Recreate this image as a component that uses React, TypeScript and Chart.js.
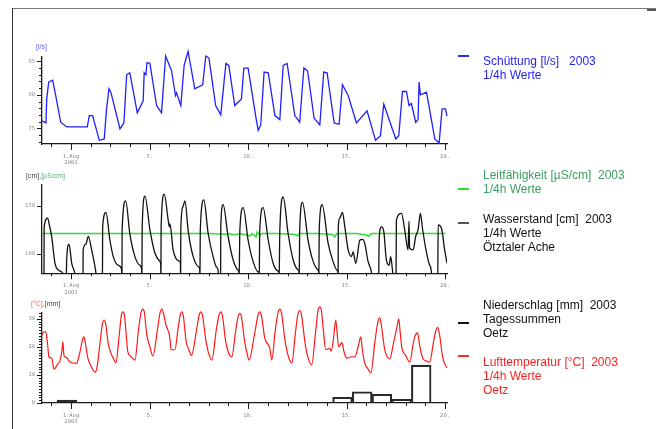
import { useEffect, useRef } from 'react';
import { Chart, registerables } from 'chart.js';

Chart.register(...registerables);

// Time axis in days of August 2003 (1 = 1 Aug 00:00, 0 = 31 Jul 00:00)
const X_MIN = -0.47;
const X_MAX = 20.1;
const dayTicks = Array.from({ length: 21 }, (_, i) => i);
const dayLabels: Record<number, string | string[]> = {
  1: ['1.Aug', '2003'],
  5: '5.',
  10: '10.',
  15: '15.',
  20: '20.',
};
const dayMajor = [1, 5, 10, 15, 20];

// Schüttung [l/s], 1/4h Werte
const discharge: [number, number][] = [
  [-0.46, 76.1], [-0.27, 75.8], [-0.23, 79.4], [-0.13, 81.9], [0.07, 82.2], [0.24, 79.7],
  [0.48, 75.9], [0.78, 75.2], [1.83, 75.2], [1.93, 76.9], [2.1, 76.9], [2.44, 73.2],
  [2.69, 73.4], [2.81, 77.9], [2.93, 80.9], [3.03, 80.4], [3.49, 74.9], [3.69, 75.8],
  [3.83, 83.0], [3.99, 83.3], [4.37, 77.3], [4.67, 79.1], [4.72, 83.3], [4.81, 83.0],
  [4.86, 84.8], [5.01, 84.7], [5.35, 78.4], [5.6, 77.3], [5.81, 85.8], [6.11, 83.6],
  [6.31, 79.9], [6.36, 80.3], [6.58, 78.4], [6.75, 84.4], [6.95, 86.5], [7.29, 80.9],
  [7.69, 81.5], [7.85, 85.8], [8.01, 85.5], [8.35, 78.4], [8.61, 77.0], [8.87, 84.7],
  [9.02, 84.4], [9.32, 78.4], [9.66, 79.4], [9.78, 84.0], [10.0, 84.0], [10.39, 76.7],
  [10.51, 74.7], [10.64, 75.5], [10.81, 83.4], [11.02, 83.3], [11.36, 76.9], [11.61, 76.3],
  [11.78, 84.4], [11.98, 84.7], [12.37, 76.9], [12.62, 75.9], [12.83, 84.0], [13.02, 83.6],
  [13.35, 76.5], [13.64, 75.5], [13.84, 83.4], [14.01, 83.3], [14.37, 75.8], [14.62, 75.6],
  [14.79, 81.5], [15.08, 79.9], [15.5, 75.8], [16.04, 77.6], [16.47, 73.2], [16.72, 73.9],
  [16.89, 78.6], [17.5, 73.4], [17.65, 73.9], [17.84, 80.5], [18.04, 80.5], [18.17, 78.4],
  [18.29, 78.7], [18.51, 75.9], [18.63, 76.3], [18.68, 81.9], [18.75, 80.0], [19.06, 80.4],
  [19.48, 73.4], [19.7, 72.8], [19.85, 77.9], [20.02, 77.9], [20.1, 76.8],
];

// Wasserstand [cm], Ötztaler Ache (drops below the axis between the daily melt peaks)
const waterLevel: [number, number][] = [
  [-0.47, 70], [-0.37, 70], [-0.36, 128], [-0.18, 137], [-0.1, 130], [0.02, 118], [0.19, 90],
  [0.36, 83], [0.61, 79], [0.7, 70],
  [0.76, 70], [0.78, 92], [0.9, 110], [1.04, 90], [1.2, 80], [1.3, 70],
  [1.61, 70], [1.62, 104], [1.76, 110], [1.88, 118], [2.05, 104], [2.27, 80], [2.32, 70],
  [2.6, 70], [2.61, 128], [2.78, 143], [2.98, 114], [3.15, 97], [3.4, 88], [3.57, 84], [3.59, 70],
  [3.6, 125], [3.78, 155], [3.99, 121], [4.25, 97], [4.5, 88], [4.59, 84], [4.6, 70],
  [4.62, 128], [4.76, 160], [5.01, 125], [5.26, 101], [5.52, 92], [5.56, 88], [5.57, 70],
  [5.58, 128], [5.74, 162], [5.94, 135], [6.0, 128], [6.03, 131], [6.19, 104], [6.53, 92], [6.56, 90], [6.57, 70],
  [6.58, 125], [6.69, 149], [6.79, 155], [6.96, 123], [7.21, 97], [7.5, 86], [7.54, 84], [7.55, 70],
  [7.57, 125], [7.75, 156], [7.97, 121], [8.22, 97], [8.4, 86], [8.48, 82], [8.49, 70],
  [8.6, 70], [8.61, 128], [8.73, 151], [8.98, 118], [9.24, 93.5], [9.49, 83], [9.53, 81], [9.54, 70],
  [9.58, 125], [9.75, 148], [10.0, 114], [10.25, 92], [10.51, 81], [10.55, 80], [10.56, 70],
  [10.59, 125], [10.76, 148], [11.02, 114], [11.27, 90], [11.52, 82], [11.56, 81], [11.57, 70],
  [11.61, 125], [11.78, 159], [12.03, 121], [12.28, 94], [12.54, 83], [12.58, 81], [12.59, 70],
  [12.62, 125], [12.76, 153.5], [13.05, 113], [13.3, 92], [13.55, 83], [13.58, 81], [13.59, 70],
  [13.61, 125], [13.76, 151], [14.06, 111], [14.31, 92], [14.51, 83], [14.56, 81], [14.57, 70],
  [14.58, 128], [14.65, 137], [14.79, 143], [14.91, 128], [15.08, 104], [15.25, 97], [15.33, 102],
  [15.47, 90], [15.67, 114], [15.81, 115], [15.92, 111], [16.09, 92], [16.26, 81], [16.33, 70],
  [16.63, 70], [16.65, 114], [16.77, 128], [16.89, 123], [17.02, 93.5], [17.16, 88], [17.24, 97], [17.33, 83], [17.4, 70],
  [17.51, 70], [17.53, 135], [17.79, 142], [17.95, 125], [18.12, 104], [18.17, 134], [18.2, 106],
  [18.38, 104], [18.51, 118], [18.63, 125], [18.75, 142], [18.85, 127], [19.06, 101], [19.22, 88],
  [19.31, 80], [19.32, 70],
  [19.63, 70], [19.65, 130], [19.82, 126.5], [19.98, 104], [20.1, 90],
];

// Leitfähigkeit [µS/cm], drawn on the shared left axis
const conductivity: [number, number][] = [
  [-0.47, 121], [2.0, 121], [4.0, 121], [6.0, 121], [8.0, 121], [8.9, 120.2], [9.0, 121],
  [9.3, 119.8], [9.6, 121], [10.1, 118.5], [10.2, 121], [10.4, 117.5], [10.45, 122.5], [10.6, 119],
  [10.7, 121], [11.5, 121], [12.4, 120], [12.5, 118.5], [12.6, 121], [13.5, 121], [14.3, 120],
  [14.4, 117.5], [14.5, 121], [15.5, 121], [16.0, 119.5], [16.1, 118], [16.2, 120], [16.3, 121],
  [17.5, 121], [19.0, 121], [20.02, 121],
];

// Lufttemperatur [°C], Oetz
const airTemp: [number, number][] = [
  [-0.47, 24.3], [-0.4, 25.2], [-0.32, 25.5], [-0.25, 24.6], [-0.18, 20.5], [-0.12, 16.4], [0.02, 16.0],
  [0.14, 12.1], [0.34, 14.0], [0.44, 15.0], [0.54, 18.5], [0.59, 21.8], [0.63, 18.0], [0.66, 16.6],
  [0.78, 16.2], [0.95, 14.6], [1.3, 14.1], [1.36, 15.5], [1.46, 18.2], [1.58, 22.4], [1.66, 23.6],
  [1.74, 21.0], [1.86, 16.0], [2.05, 12.8], [2.22, 11.0], [2.32, 12.5], [2.48, 21.5], [2.6, 28.4],
  [2.68, 29.6], [2.76, 28.4], [2.9, 21.0], [3.03, 17.8], [3.15, 16.0], [3.28, 14.3], [3.45, 24.0],
  [3.56, 31.2], [3.64, 32.5], [3.72, 31.2], [3.8, 25.0], [3.89, 18.2], [4.05, 16.6], [4.25, 15.3],
  [4.43, 26.0], [4.56, 32.3], [4.65, 33.5], [4.73, 32.3], [4.85, 24.5], [5.01, 20.0], [5.16, 16.7],
  [5.4, 26.5], [5.53, 32.3], [5.62, 33.5], [5.7, 32.0], [5.82, 28.0], [6.03, 23.0], [6.08, 19.0],
  [6.28, 19.0], [6.44, 26.5], [6.55, 31.3], [6.63, 32.5], [6.71, 31.0], [6.85, 22.0], [6.99, 19.0],
  [7.12, 17.0], [7.38, 26.0], [7.51, 31.3], [7.6, 32.5], [7.68, 31.3], [7.85, 22.5], [8.0, 17.5],
  [8.16, 15.3], [8.38, 26.0], [8.52, 31.3], [8.61, 32.5], [8.69, 31.3], [8.86, 22.0], [9.0, 18.0],
  [9.17, 16.4], [9.36, 25.5], [9.49, 30.8], [9.58, 32.0], [9.66, 30.8], [9.82, 22.0], [9.95, 17.5],
  [10.04, 15.3], [10.36, 26.0], [10.5, 31.3], [10.59, 32.5], [10.67, 31.3], [10.85, 23.0], [11.1, 19.6],
  [11.2, 15.3], [11.38, 26.0], [11.52, 32.3], [11.61, 33.5], [11.69, 32.3], [11.88, 22.0], [12.05, 16.5],
  [12.22, 14.3], [12.4, 25.0], [12.53, 31.8], [12.62, 33.0], [12.7, 31.8], [12.9, 21.0], [13.05, 16.0],
  [13.23, 13.6], [13.42, 25.0], [13.55, 33.0], [13.64, 34.3], [13.72, 33.0], [13.82, 26.0], [13.94, 19.0],
  [14.15, 19.5], [14.22, 18.5], [14.35, 24.0], [14.45, 29.6], [14.52, 25.0], [14.6, 20.0], [14.76, 21.5],
  [14.88, 18.0], [15.01, 16.0], [15.25, 16.5], [15.42, 16.5], [15.6, 20.5], [15.72, 23.6], [15.8, 19.0],
  [15.92, 14.3], [16.1, 12.0], [16.23, 10.7], [16.45, 22.5], [16.6, 29.2], [16.69, 30.4], [16.77, 27.5],
  [16.94, 19.0], [17.19, 15.7], [17.4, 22.0], [17.55, 26.8], [17.65, 30.0], [17.72, 25.5], [17.8, 20.0],
  [18.0, 17.0], [18.21, 14.6], [18.38, 21.0], [18.46, 23.6], [18.61, 25.0], [18.7, 21.0], [18.87, 16.0],
  [19.05, 15.0], [19.22, 14.6], [19.42, 22.0], [19.55, 26.2], [19.63, 27.0], [19.72, 24.5], [19.88, 16.4],
  [20.09, 12.5],
];

// Niederschlag [mm], Tagessummen Oetz (day of the 07:00 reading that opens the period)
const rainDays = [0, 14, 15, 16, 17, 18];
const rainMm = [1.0, 2.0, 4.0, 3.1, 1.3, 13.5];

// Left axes
const dischargeTicks = Array.from({ length: 13 }, (_, i) => 73 + i);
const dischargeLabels = [75, 80, 85];
const levelTicks = [100, 150];
const levelLabels = [100, 150];
const tempTicks = Array.from({ length: 33 }, (_, i) => i);
const tempLabels = [0, 10, 20, 30];

const AXIS = '#1a1a1a';
const TICK_TEXT = '#8c8c8c';
const TICK_FONT = { family: "'DejaVu Sans Mono', monospace", size: 5.5, lineHeight: 1.2 };
const TEXT_FONT = "'Liberation Sans', Arial, sans-serif";

const toPoints = (pairs: [number, number][]) => pairs.map(([x, y]) => ({ x, y }));

// Short tick marks drawn off the library's own scales; labelled ticks are longer.
const tickMarks = {
  id: 'tickMarks',
  afterDraw(chart: any, _args: any, opts: any) {
    const ctx = chart.ctx;
    const xs = chart.scales.x;
    const ys = chart.scales.y;
    ctx.save();
    ctx.strokeStyle = AXIS;
    ctx.lineWidth = 1;
    ctx.beginPath();
    xs.ticks.forEach((t: any) => {
      const px = Math.round(xs.getPixelForValue(t.value)) + 0.5;
      const len = dayMajor.includes(t.value) ? 6 : 3;
      ctx.moveTo(px, xs.top);
      ctx.lineTo(px, xs.top + len);
    });
    ys.ticks.forEach((t: any) => {
      const py = Math.round(ys.getPixelForValue(t.value)) + 0.5;
      const len = (opts.yMajor || []).includes(t.value) ? 5 : 3;
      ctx.moveTo(ys.right - len, py);
      ctx.lineTo(ys.right, py);
    });
    ctx.stroke();
    ctx.restore();
  },
};

function timeAxis(height: number) {
  return {
    type: 'linear',
    min: X_MIN,
    max: X_MAX,
    offset: false,
    grid: { display: false, drawTicks: false, offset: false },
    border: { display: true, color: AXIS, width: 1.3 },
    afterBuildTicks: (s: any) => {
      s.ticks = dayTicks.map((v) => ({ value: v }));
    },
    afterFit: (s: any) => {
      s.height = height;
    },
    ticks: {
      autoSkip: false,
      maxRotation: 0,
      padding: 9,
      color: TICK_TEXT,
      font: TICK_FONT,
      callback: (v: number) => dayLabels[v] ?? '',
    },
  };
}

function valueAxis(min: number, max: number, ticks: number[], labels: number[]) {
  return {
    type: 'linear',
    min,
    max,
    grid: { display: false, drawTicks: false },
    border: { display: true, color: AXIS, width: 1.3 },
    afterBuildTicks: (s: any) => {
      s.ticks = ticks.map((v) => ({ value: v }));
    },
    afterFit: (s: any) => {
      s.width = 42;
    },
    ticks: {
      autoSkip: false,
      padding: 7,
      color: TICK_TEXT,
      font: TICK_FONT,
      callback: (v: number) => (labels.includes(v) ? String(v) : ''),
    },
  };
}

function baseOptions(padTop: number, xHeight: number, yAxis: any, yMajor: number[]) {
  return {
    responsive: false,
    animation: false,
    events: [],
    layout: { padding: { top: padTop, right: 13, left: 0, bottom: 0 } },
    scales: { x: timeAxis(xHeight), y: yAxis },
    plugins: { legend: { display: false }, tooltip: { enabled: false }, tickMarks: { yMajor } },
    elements: { point: { radius: 0 } },
  };
}

const lineStyle = { pointRadius: 0, fill: false };

export default function App() {
  const flowRef = useRef<HTMLCanvasElement>(null);
  const levelRef = useRef<HTMLCanvasElement>(null);
  const weatherRef = useRef<HTMLCanvasElement>(null);

  useEffect(() => {
    const charts: Chart[] = [];

    charts.push(
      new Chart(flowRef.current!, {
        type: 'line',
        data: {
          datasets: [
            {
              ...lineStyle,
              data: toPoints(discharge),
              borderColor: '#1f1fff',
              borderWidth: 1.3,
              clip: false,
            } as any,
          ],
        },
        options: baseOptions(26.7, 26, valueAxis(72.65, 85.7, dischargeTicks, dischargeLabels), dischargeLabels) as any,
        plugins: [tickMarks as any],
      }),
    );

    charts.push(
      new Chart(levelRef.current!, {
        type: 'line',
        data: {
          datasets: [
            {
              ...lineStyle,
              data: toPoints(waterLevel),
              borderColor: '#111111',
              borderWidth: 1.3,
              cubicInterpolationMode: 'monotone',
            } as any,
            {
              ...lineStyle,
              data: toPoints(conductivity),
              borderColor: '#2ee02e',
              borderWidth: 1.5,
            } as any,
          ],
        },
        options: baseOptions(15, 26.7, valueAxis(79.6, 171.5, levelTicks, levelLabels), levelLabels) as any,
        plugins: [tickMarks as any],
      }),
    );

    charts.push(
      new Chart(weatherRef.current!, {
        type: 'line',
        data: {
          datasets: [
            {
              ...lineStyle,
              data: toPoints(airTemp),
              borderColor: '#ff1a1a',
              borderWidth: 1.2,
              cubicInterpolationMode: 'monotone',
              clip: false,
            } as any,
            {
              type: 'bar',
              // bar centred in its 07:00 → 07:00 collection period
              data: rainDays.map((d, i) => ({ x: d + 19 / 24, y: rainMm[i] })),
              backgroundColor: 'rgba(0,0,0,0)',
              borderColor: '#2a2a2a',
              borderWidth: 1.4,
              barPercentage: 1,
              categoryPercentage: 1,
            } as any,
          ],
        },
        options: baseOptions(13, 26, valueAxis(0, 32.1, tempTicks, tempLabels), tempLabels) as any,
        plugins: [tickMarks as any],
      }),
    );

    return () => charts.forEach((c) => c.destroy());
  }, []);

  const abs = (left: number, top: number): React.CSSProperties => ({ position: 'absolute', left, top });
  const legendText: React.CSSProperties = {
    fontFamily: TEXT_FONT,
    fontSize: 12,
    lineHeight: '14.2px',
    whiteSpace: 'pre',
  };
  const unitText: React.CSSProperties = {
    fontFamily: TEXT_FONT,
    fontSize: 7,
    lineHeight: '8px',
    whiteSpace: 'pre',
  };
  const marker = (top: number, color: string): React.CSSProperties => ({
    position: 'absolute',
    left: 458,
    top,
    width: 11,
    height: 0,
    borderTop: `2px solid ${color}`,
  });

  return (
    <div style={{ position: 'absolute', left: 0, top: 0, width: 656, height: 429, background: '#fff', overflow: 'hidden' }}>
      {/* frame */}
      <div style={{ position: 'absolute', left: 12, top: 8, width: 644, borderTop: '1.5px solid #777' }} />
      <div style={{ position: 'absolute', left: 647, top: 8.5, width: 9, borderTop: '2px solid #555' }} />
      <div style={{ position: 'absolute', left: 12, top: 8, height: 421, borderLeft: '1px solid #333' }} />

      <canvas ref={flowRef} width={460} height={140} style={{ position: 'absolute', left: 0, top: 30 }} />
      <canvas ref={levelRef} width={460} height={130} style={{ position: 'absolute', left: 0, top: 170 }} />
      <canvas ref={weatherRef} width={460} height={129} style={{ position: 'absolute', left: 0, top: 300 }} />

      {/* unit labels */}
      <div style={{ ...abs(36, 43), ...unitText, color: '#5a5aff' }}>[l/s]</div>
      <div style={{ ...abs(26, 172), ...unitText }}>
        <span style={{ color: '#444' }}>[cm]</span>
        <span style={{ color: '#55b57a' }}>,[µS/cm]</span>
      </div>
      <div style={{ ...abs(31, 300), ...unitText }}>
        <span style={{ color: '#ff5a5a' }}>[°C]</span>
        <span style={{ color: '#444' }}>,[mm]</span>
      </div>

      {/* legend */}
      <div style={marker(54.5, '#2a2aff')} />
      <div style={{ ...abs(483, 53.5), ...legendText, color: '#2626e6' }}>
        {'Schüttung [l/s]   2003\n1/4h Werte'}
      </div>

      <div style={marker(187.5, '#2ee02e')} />
      <div style={{ ...abs(483, 168), ...legendText, color: '#3c9e62' }}>
        {'Leitfähigkeit [µS/cm]  2003\n1/4h Werte'}
      </div>

      <div style={marker(221.5, '#555')} />
      <div style={{ ...abs(483, 212), ...legendText, color: '#111' }}>
        {'Wasserstand [cm]  2003\n1/4h Werte\nÖtztaler Ache'}
      </div>

      <div style={marker(321.5, '#111')} />
      <div style={{ ...abs(483, 298), ...legendText, color: '#111' }}>
        {'Niederschlag [mm]  2003\nTagessummen\nOetz'}
      </div>

      <div style={marker(354.5, '#ff2a2a')} />
      <div style={{ ...abs(483, 355), ...legendText, color: '#ff2020' }}>
        {'Lufttemperatur [°C]  2003\n1/4h Werte\nOetz'}
      </div>
    </div>
  );
}
